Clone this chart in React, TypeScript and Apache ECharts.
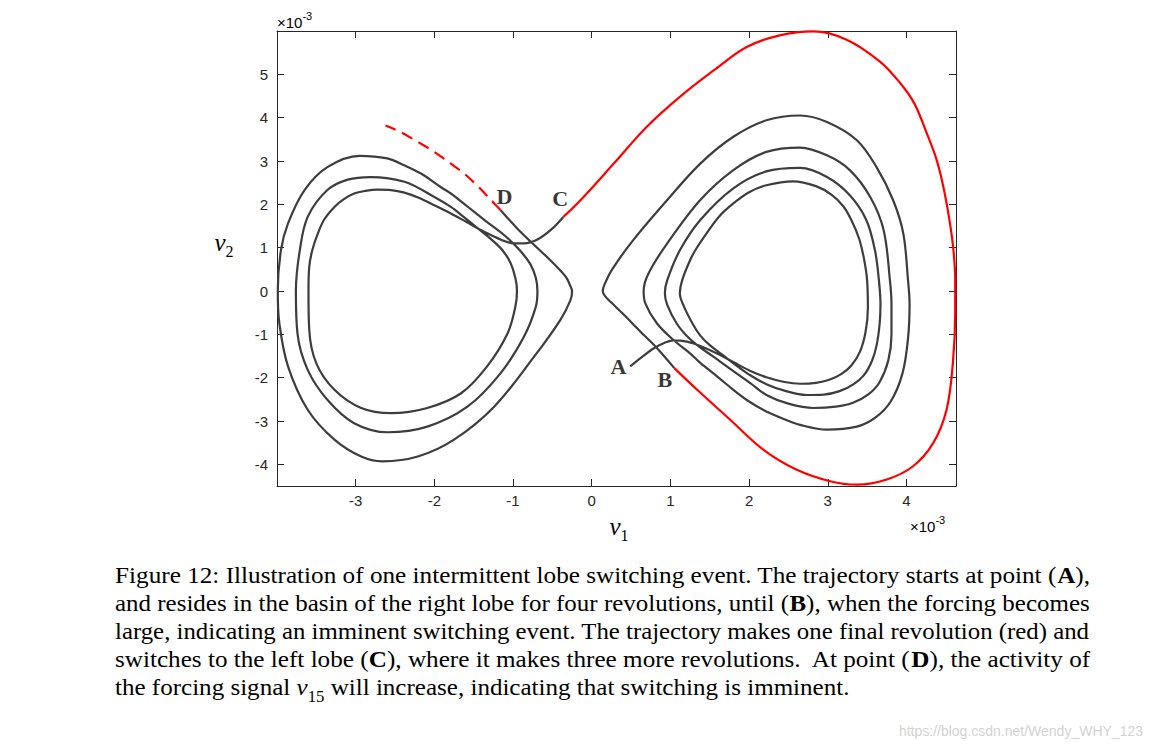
import React, { useEffect, useRef } from "react";
import * as echarts from "echarts";

// ---------- data (units of 1e-3) ----------
const xTicks = [-3, -2, -1, 0, 1, 2, 3, 4];
const yTicks = [-4, -3, -2, -1, 0, 1, 2, 3, 4, 5];
const xRange = [-4, 4.63];
const yRange = [-4.5, 6];

// right lobe, from A (black) until B
const rightLobe: number[][] = [
  [0.49, -1.74], [0.62, -1.55], [0.79, -1.32], [0.92, -1.2], [1.04, -1.14], [1.21, -1.17], [1.38, -1.27],
  [1.6, -1.45], [1.8, -1.64], [2.01, -1.84], [2.22, -1.99], [2.45, -2.1], [2.65, -2.14], [2.85, -2.12],
  [3.02, -2.05], [3.17, -1.92], [3.3, -1.72], [3.41, -1.4], [3.48, -0.95], [3.51, -0.4], [3.5, 0.25],
  [3.46, 0.75], [3.4, 1.2], [3.31, 1.6], [3.2, 1.95], [3.05, 2.22], [2.85, 2.42], [2.56, 2.53],
  [2.22, 2.44], [2.0, 2.28], [1.8, 2.02], [1.62, 1.72], [1.46, 1.33], [1.33, 0.98], [1.25, 0.71],
  [1.15, 0.25], [1.12, -0.05], [1.17, -0.35], [1.29, -0.78], [1.38, -1.03], [1.5, -1.25], [1.66, -1.47],
  [1.84, -1.72], [2.02, -1.95], [2.22, -2.15], [2.45, -2.3], [2.73, -2.4], [2.95, -2.39], [3.15, -2.31],
  [3.32, -2.16], [3.46, -1.94], [3.56, -1.62], [3.62, -1.26], [3.66, -0.75], [3.67, -0.3], [3.65, 0.25],
  [3.6, 0.94], [3.49, 1.64], [3.28, 2.21], [2.99, 2.63], [2.65, 2.84], [2.22, 2.76], [1.8, 2.37],
  [1.38, 1.64], [1.12, 0.94], [0.96, 0.25], [0.93, -0.05], [0.96, -0.32], [1.08, -0.75], [1.2, -1.02],
  [1.34, -1.25], [1.55, -1.52], [1.8, -1.85], [2.02, -2.13], [2.22, -2.4], [2.5, -2.6], [2.82, -2.7],
  [3.1, -2.67], [3.32, -2.58], [3.52, -2.38], [3.66, -2.1], [3.77, -1.6], [3.81, -1.0], [3.81, -0.3],
  [3.79, 0.25], [3.71, 1.41], [3.54, 2.17], [3.28, 2.79], [2.99, 3.13], [2.65, 3.31], [2.22, 3.21],
  [1.8, 2.79], [1.38, 2.1], [0.96, 1.1], [0.72, 0.4], [0.66, 0.0], [0.68, -0.28], [0.83, -0.75],
  [1.04, -1.13], [1.25, -1.44], [1.38, -1.66], [1.6, -1.98], [1.8, -2.28], [2.0, -2.55], [2.22, -2.78],
  [2.45, -2.96], [2.65, -3.09], [2.99, -3.2], [3.37, -3.13], [3.6, -2.93], [3.8, -2.55], [3.95, -1.9],
  [4.02, -1.1], [4.04, -0.3], [4.02, 0.25], [3.96, 1.33], [3.83, 2.1], [3.62, 2.86], [3.37, 3.48],
  [2.99, 3.9], [2.65, 4.05], [2.22, 3.94], [1.8, 3.56], [1.38, 2.94], [0.96, 2.1], [0.53, 1.18],
  [0.26, 0.5], [0.17, 0.18], [0.14, 0.0], [0.17, -0.12], [0.24, -0.25], [0.41, -0.55], [0.62, -0.94],
  [0.83, -1.32], [1.05, -1.78],
];

// final revolution (red), from B to C
const finalRevolution: number[][] = [
  [1.05, -1.78], [1.34, -2.28], [1.76, -2.97], [2.18, -3.66], [2.6, -4.12], [3.03, -4.39], [3.37, -4.47],
  [3.75, -4.35], [4.08, -4.05], [4.34, -3.51], [4.51, -2.74], [4.59, -1.67], [4.62, -0.51], [4.62, 0.25],
  [4.6, 0.9], [4.55, 1.6], [4.47, 2.4], [4.38, 3.05], [4.25, 3.68], [4.1, 4.33], [3.92, 4.8], [3.66, 5.3],
  [3.24, 5.8], [2.82, 5.99], [2.39, 5.9], [1.97, 5.63], [1.55, 5.09], [1.12, 4.48], [0.7, 3.79],
  [0.28, 2.94], [-0.14, 2.1], [-0.36, 1.71],
];

// left lobe, from C (black) until D
const leftLobe: number[][] = [
  [-0.36, 1.71], [-0.52, 1.41], [-0.69, 1.19], [-0.86, 1.1], [-0.99, 1.1], [-1.16, 1.19], [-1.37, 1.37],
  [-1.58, 1.58], [-1.79, 1.79], [-2.0, 1.98], [-2.2, 2.15], [-2.38, 2.27], [-2.55, 2.33], [-2.72, 2.34],
  [-2.88, 2.31], [-3.02, 2.25], [-3.15, 2.12], [-3.27, 1.94], [-3.4, 1.65], [-3.48, 1.33], [-3.55, 0.95],
  [-3.59, 0.56], [-3.6, 0.0], [-3.59, -0.9], [-3.5, -1.67], [-3.27, -2.28], [-2.93, -2.7], [-2.55, -2.82],
  [-2.09, -2.7], [-1.66, -2.36], [-1.33, -1.74], [-1.07, -0.98], [-0.97, -0.36], [-0.95, 0.0],
  [-0.97, 0.3], [-1.03, 0.64], [-1.13, 0.93], [-1.27, 1.18], [-1.45, 1.45], [-1.62, 1.7], [-1.79, 1.94],
  [-2.0, 2.17], [-2.38, 2.52], [-2.81, 2.63], [-3.1, 2.57], [-3.36, 2.33], [-3.61, 1.71], [-3.71, 0.94],
  [-3.76, 0.0], [-3.74, -0.98], [-3.61, -1.82], [-3.36, -2.51], [-3.02, -3.05], [-2.59, -3.26],
  [-2.09, -3.13], [-1.58, -2.67], [-1.16, -1.9], [-0.86, -1.05], [-0.71, -0.36], [-0.69, 0.0],
  [-0.71, 0.3], [-0.78, 0.62], [-0.92, 0.95], [-1.1, 1.27], [-1.35, 1.62], [-1.58, 1.95], [-1.79, 2.25],
  [-1.92, 2.4], [-2.17, 2.71], [-2.38, 2.9], [-2.6, 3.06], [-2.95, 3.12], [-3.36, 2.86], [-3.65, 2.33],
  [-3.86, 1.56], [-3.95, 0.94], [-3.99, 0.0], [-3.97, -0.75], [-3.86, -1.74], [-3.61, -2.74],
  [-3.27, -3.43], [-2.93, -3.82], [-2.66, -3.93], [-2.21, -3.82], [-1.75, -3.43], [-1.24, -2.67],
  [-0.73, -1.51], [-0.4, -0.67], [-0.27, -0.21], [-0.25, 0.0], [-0.28, 0.15], [-0.33, 0.33],
  [-0.52, 0.7], [-0.73, 1.06], [-0.95, 1.45], [-1.16, 1.87],
];

// imminent switch (red dashed), from D
const switchAhead: number[][] = [
  [-1.16, 1.87], [-1.28, 2.1], [-1.45, 2.42], [-1.62, 2.71], [-1.8, 2.95], [-2.0, 3.21], [-2.2, 3.43],
  [-2.43, 3.67], [-2.62, 3.82],
];

const markerNames = ["A", "B", "C", "D"];
const markerX = [0.34, 0.93, -0.4, -1.11];
const markerY = [-1.75, -2.05, 2.14, 2.19];

const captionLines: string[][][] = [
  [["n", "Figure 12: Illustration of one intermittent lobe switching event. The trajectory starts at point ("], ["b", "A"], ["n", "),"]],
  [["n", "and resides in the basin of the right lobe for four revolutions, until ("], ["b", "B"], ["n", "), when the forcing becomes"]],
  [["n", "large, indicating an imminent switching event. The trajectory makes one final revolution (red) and"]],
  [["n", "switches to the left lobe ("], ["b", "C"], ["n", "), where it makes three more revolutions.  At point ("], ["b", "D"], ["n", "), the activity of"]],
  [["n", "the forcing signal "], ["i", "v"], ["s", "15"], ["n", " will increase, indicating that switching is imminent."]],
];
const watermark = "https://blog.csdn.net/Wendy_WHY_123";

// ---------- styling ----------
const AXIS = "#262626";
const SERIF = "Liberation Serif, Times New Roman, serif";
const SANS = "Liberation Sans, Arial, Helvetica, sans-serif";
const CAP_SIZE = 24;

function segFont(kind: string) {
  if (kind === "b") return `bold ${CAP_SIZE}px ${SERIF}`;
  if (kind === "i") return `italic ${CAP_SIZE}px ${SERIF}`;
  if (kind === "s") return `16px ${SERIF}`;
  return `${CAP_SIZE}px ${SERIF}`;
}

export default function App() {
  const ref = useRef<HTMLDivElement>(null);

  useEffect(() => {
    if (!ref.current) return;
    const chart = echarts.init(ref.current, undefined, { renderer: "svg" });

    const canvas = document.createElement("canvas");
    const ctx = canvas.getContext("2d")!;
    const widths = captionLines.map((line) =>
      line.reduce((acc, [k, t]) => {
        ctx.font = segFont(k);
        return acc + ctx.measureText(t).width;
      }, 0)
    );
    const target = 975;
    const scales = widths.map((w) => target / w);
    const meanScale = (scales[0] + scales[1] + scales[2] + scales[3]) / 4;

    const capRich = {
      n: { fontFamily: SERIF, fontSize: CAP_SIZE, color: "#111", lineHeight: 28, verticalAlign: "middle" },
      b: { fontFamily: SERIF, fontSize: CAP_SIZE, fontWeight: "bold", color: "#111", lineHeight: 28, verticalAlign: "middle" },
      i: { fontFamily: SERIF, fontSize: CAP_SIZE, fontStyle: "italic", color: "#111", lineHeight: 28, verticalAlign: "middle" },
      s: { fontFamily: SERIF, fontSize: 16, color: "#111", lineHeight: 36, verticalAlign: "bottom" },
    };

    const captionGraphics = captionLines.map((line, i) => ({
      type: "text",
      x: 115,
      y: 575 + 28 * i,
      scaleX: i < 4 ? scales[i] : meanScale,
      style: {
        text: line.map(([k, t]) => `{${k}|${t}}`).join(""),
        rich: capRich,
        verticalAlign: "middle",
        align: "left",
      },
    }));

    const expRich = {
      a: { fontFamily: SANS, fontSize: 15, color: AXIS, lineHeight: 20, verticalAlign: "bottom" },
      e: { fontFamily: SANS, fontSize: 11, color: AXIS, lineHeight: 20, verticalAlign: "top" },
    };
    const varRich = {
      v: { fontFamily: SERIF, fontSize: 25, fontStyle: "italic", color: "#222", lineHeight: 26, verticalAlign: "middle" },
      s: { fontFamily: SERIF, fontSize: 16, color: "#222", lineHeight: 34, verticalAlign: "bottom" },
    };

    const axisCommon = {
      type: "value" as const,
      axisLine: { show: true, onZero: false, lineStyle: { color: AXIS, width: 1 } },
      splitLine: { show: false },
    };

    chart.setOption({
      animation: false,
      backgroundColor: "#ffffff",
      grid: { left: 277, top: 31, width: 679, height: 455, containLabel: false },
      xAxis: [
        {
          ...axisCommon,
          min: xRange[0],
          max: xRange[1],
          position: "bottom",
          axisTick: { show: true, inside: true, length: 7, customValues: xTicks, lineStyle: { color: AXIS } },
          axisLabel: { show: true, customValues: xTicks, margin: 7, fontSize: 15, fontFamily: SANS, color: AXIS, formatter: (v: number) => String(v) },
        },
        {
          ...axisCommon,
          min: xRange[0],
          max: xRange[1],
          position: "top",
          axisTick: { show: true, inside: true, length: 7, customValues: xTicks, lineStyle: { color: AXIS } },
          axisLabel: { show: false },
        },
      ],
      yAxis: [
        {
          ...axisCommon,
          min: yRange[0],
          max: yRange[1],
          position: "left",
          axisTick: { show: true, inside: true, length: 7, customValues: yTicks, lineStyle: { color: AXIS } },
          axisLabel: { show: true, customValues: yTicks, margin: 9, fontSize: 15, fontFamily: SANS, color: AXIS, formatter: (v: number) => String(v) },
        },
        {
          ...axisCommon,
          min: yRange[0],
          max: yRange[1],
          position: "right",
          axisTick: { show: true, inside: true, length: 7, customValues: yTicks, lineStyle: { color: AXIS } },
          axisLabel: { show: false },
        },
      ],
      series: [
        {
          type: "line", name: "right lobe", data: rightLobe, showSymbol: false, smooth: 0.35,
          lineStyle: { color: "#3d3d3d", width: 2.2 }, z: 2,
        },
        {
          type: "line", name: "left lobe", data: leftLobe, showSymbol: false, smooth: 0.35,
          lineStyle: { color: "#3d3d3d", width: 2.2 }, z: 2,
        },
        {
          type: "line", name: "final revolution", data: finalRevolution, showSymbol: false, smooth: 0.35,
          lineStyle: { color: "#ff0000", width: 2.2 }, z: 3,
        },
        {
          type: "line", name: "switch", data: switchAhead, showSymbol: false, smooth: 0.35,
          lineStyle: { color: "#ff0000", width: 2.2, type: [12, 7] }, z: 3,
        },
        {
          type: "scatter",
          name: "markers",
          symbolSize: 1,
          itemStyle: { color: "rgba(0,0,0,0)" },
          data: markerNames.map((n, i) => ({ name: n, value: [markerX[i], markerY[i]] })),
          label: {
            show: true, position: "inside", formatter: "{b}", fontFamily: SERIF, fontWeight: "bold",
            fontSize: 22, color: "#000",
          },
          z: 5,
        },
      ],
      graphic: [
        {
          type: "text", x: 277, y: 30,
          style: { text: "{a|×10}{e|-3}", rich: expRich, align: "left", verticalAlign: "bottom" },
        },
        {
          type: "text", x: 910, y: 534,
          style: { text: "{a|×10}{e|-3}", rich: expRich, align: "left", verticalAlign: "bottom" },
        },
        {
          type: "text", x: 224, y: 242,
          style: { text: "{v|v}{s|2}", rich: varRich, align: "center", verticalAlign: "middle" },
        },
        {
          type: "text", x: 619, y: 526,
          style: { text: "{v|v}{s|1}", rich: varRich, align: "center", verticalAlign: "middle" },
        },
        ...captionGraphics,
        {
          type: "text", x: 1143, y: 731,
          style: { text: watermark, fontFamily: SANS, fontSize: 14, fill: "#d2d2d2", align: "right", verticalAlign: "middle" },
        },
      ],
    });

    return () => chart.dispose();
  }, []);

  return (
    <div
      ref={ref}
      style={{ position: "absolute", left: 0, top: 0, width: 1153, height: 748, background: "#fff" }}
    />
  );
}
